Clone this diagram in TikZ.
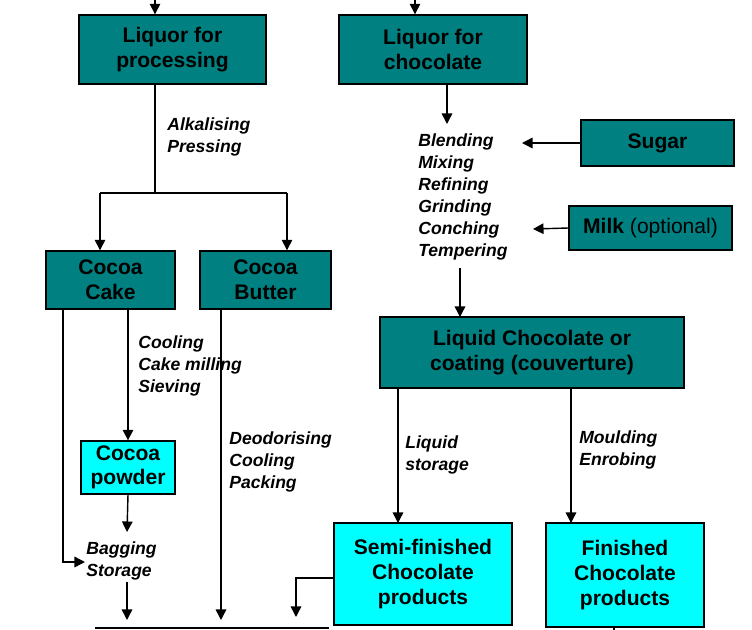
\documentclass[tikz,border=0pt]{standalone}
\usepackage{fontspec}
\setmainfont{Liberation Sans}
\usetikzlibrary{arrows.meta}
\definecolor{tealbox}{RGB}{0,128,128}
\definecolor{cyanbox}{RGB}{0,255,255}
\tikzset{
  box/.style={draw, thick, fill=tealbox, align=center, inner sep=0pt, font=\fontsize{12}{14}\selectfont\bfseries},
  lbox/.style={draw, thick, fill=cyanbox, align=center, inner sep=0pt, font=\fontsize{12}{14}\selectfont\bfseries},
  stp/.style={anchor=west, align=left, inner sep=0pt, font=\fontsize{10}{12.5}\selectfont\bfseries\itshape},
  arr/.style={thick, -{Triangle[length=6pt,width=6pt]}},
  ln/.style={thick}
}
\begin{document}
\begin{tikzpicture}[x=0.02cm, y=-0.02cm]
\useasboundingbox (0,0) rectangle (752,630);
% boxes
\node[box, minimum width=187*0.02cm, minimum height=69*0.02cm] (lfp) at (172.5,49.5) {Liquor for\\processing};
\node[box, minimum width=188*0.02cm, minimum height=69*0.02cm] (lfc) at (433,49.5) {Liquor for\\chocolate};
\node[box, minimum width=153*0.02cm, minimum height=46*0.02cm] (sugar) at (657.5,143) {Sugar};
\node[box, minimum width=163*0.02cm, minimum height=44*0.02cm] (milk) at (650.5,228) {Milk \textmd{(optional)}};
\node[box, minimum width=129*0.02cm, minimum height=58*0.02cm] (cake) at (110.5,280) {Cocoa\\Cake};
\node[box, minimum width=131*0.02cm, minimum height=58*0.02cm] (butter) at (265.5,280) {Cocoa\\Butter};
\node[box, minimum width=304*0.02cm, minimum height=71*0.02cm] (liq) at (532,352.5) {Liquid Chocolate or\\coating (couverture)};
\node[lbox, minimum width=94*0.02cm, minimum height=53*0.02cm] (powder) at (128,467.5) {Cocoa\\powder};
\node[lbox, minimum width=178*0.02cm, minimum height=102*0.02cm] (semi) at (423,574) {Semi-finished\\Chocolate\\products};
\node[lbox, minimum width=158*0.02cm, minimum height=104*0.02cm] (fin) at (625,575) {Finished\\Chocolate\\products};
% texts
\node[stp] (t1) at (167,137) {Alkalising\\Pressing};
\node[stp] (t2) at (418,197) {Blending\\Mixing\\Refining\\Grinding\\Conching\\Tempering};
\node[stp] (t3) at (138,366) {Cooling\\Cake milling\\Sieving};
\node[stp] (t4) at (229,462) {Deodorising\\Cooling\\Packing};
\node[stp] (t5) at (405,455) {Liquid\\storage};
\node[stp] (t6) at (579,450) {Moulding\\Enrobing};
\node[stp] (t7) at (86,561) {Bagging\\Storage};
% coordinates
\coordinate (in1) at (155,0);
\coordinate (in2) at (415,0);
\coordinate (sp) at (155,193);
\coordinate (spl) at (100,193);
\coordinate (spr) at (287,193);
\coordinate (lc1) at (447,84);
\coordinate (lc2) at (447,124);
\coordinate (su) at (522,143);
\coordinate (mi) at (533,229);
\coordinate (te) at (460,268);
\coordinate (te2) at (460,317);
\coordinate (ls1) at (398,388);
\coordinate (ls2) at (398,523);
\coordinate (mo1) at (571,388);
\coordinate (mo2) at (571,523);
\coordinate (pw) at (127,532);
\coordinate (c0) at (63,309);
\coordinate (c1) at (63,562);
\coordinate (c2) at (85,562);
\coordinate (bs) at (127,582);
\coordinate (e1) at (127,620);
\coordinate (e2) at (221,620);
\coordinate (k1) at (296,578);
\coordinate (e3) at (296,617);
\coordinate (b1) at (95,628);
\coordinate (b2) at (329,628);
\coordinate (f1) at (614,630);
% connectors
\draw[arr] (in1) -- (lfp.north -| in1);
\draw[arr] (in2) -- (lfc.north -| in2);
\draw[ln] (lfp.south -| sp) -- (sp);
\draw[ln] (spl) -- (spr);
\draw[arr] (spl) -- (cake.north -| spl);
\draw[arr] (spr) -- (butter.north -| spr);
\draw[arr] (lc1) -- (lc2);
\draw[arr] (sugar.west) -- (su);
\draw[arr] (milk.west) -- (mi);
\draw[arr] (te) -- (te2);
\draw[arr] (c0) -- (c1) -- (c2);
\draw[arr] (cake.south -| powder) -- (powder.north);
\draw[arr] (powder.south) -- (pw);
\draw[arr] (bs) -- (e1);
\draw[arr] (butter.south -| e2) -- (e2);
\draw[arr] (ls1) -- (ls2);
\draw[arr] (mo1) -- (mo2);
\draw[arr] (semi.west |- k1) -- (k1) -- (e3);
\draw[ln] (b1) -- (b2);
\draw[ln] (fin.south -| f1) -- (f1);
\end{tikzpicture}
\end{document}
